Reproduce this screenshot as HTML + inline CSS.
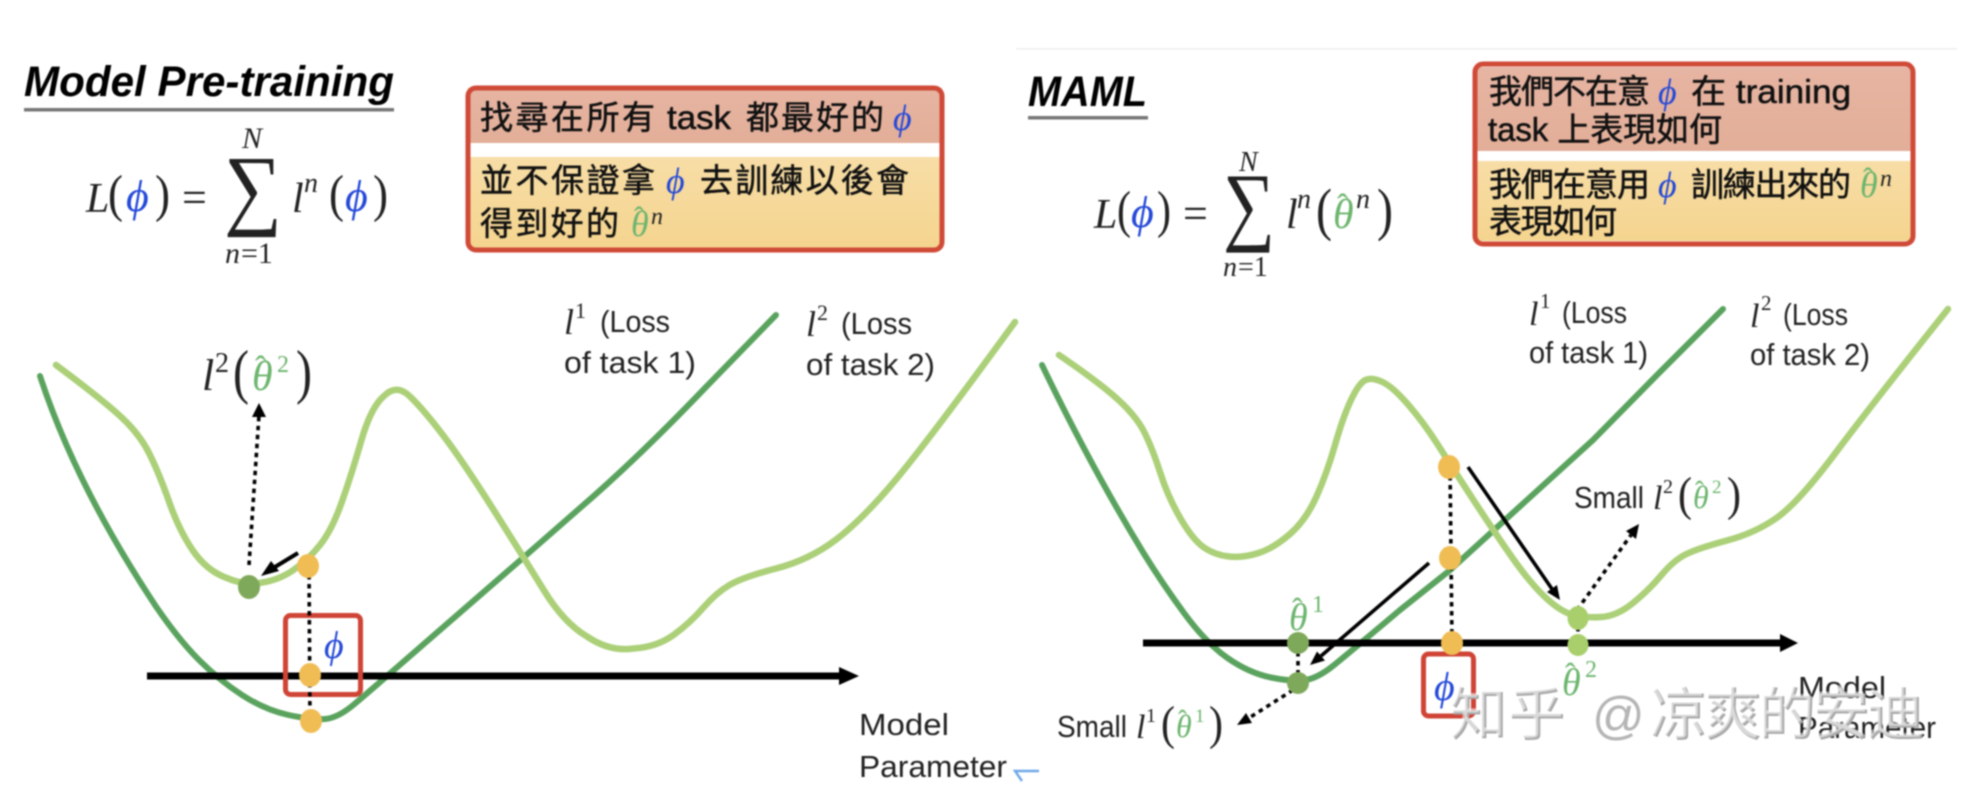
<!DOCTYPE html>
<html><head><meta charset="utf-8">
<style>
html,body{margin:0;padding:0;background:#fff;width:1978px;height:794px;overflow:hidden}
svg{display:block;filter:blur(.8px)}
text{font-family:"Liberation Sans","Noto Sans CJK TC",sans-serif;fill:#111}
.cjk{font-size:33px;fill:#111;stroke:#111;stroke-width:.5}
.m{font-family:"Liberation Serif","DejaVu Serif",serif;font-style:italic;fill:#222}
.u{font-family:"Liberation Serif","DejaVu Serif",serif;fill:#222}
.b{fill:#2348d8}
.g{fill:#6cb56e}
.t{font-weight:bold;font-style:italic;font-size:43px;fill:#000}
.s{font-size:31px;fill:#222}
.dark{fill:none;stroke:#5aa35e;stroke-width:6;stroke-linecap:round;stroke-linejoin:round}
.light{fill:none;stroke:#abd078;stroke-width:6.500;stroke-linecap:round;stroke-linejoin:round}
.dot{fill:none;stroke:#000;stroke-width:3.600;stroke-dasharray:4.500 4.500}
.w{font-size:57px;font-family:"Liberation Sans","Noto Sans CJK SC",sans-serif}
</style></head><body>
<svg width="1978" height="794" viewBox="0 0 1978 794" xmlns="http://www.w3.org/2000/svg">
<defs>
<linearGradient id="a1" x1="0" y1="0" x2="0" y2="1"><stop offset="0" stop-color="#e6b4a2"/><stop offset="1" stop-color="#e2ae98"/></linearGradient>
<linearGradient id="a2" x1="0" y1="0" x2="0" y2="1"><stop offset="0" stop-color="#f7dda6"/><stop offset="1" stop-color="#f4d48e"/></linearGradient>
</defs>
<rect width="1978" height="794" fill="#fff"/>
<rect x="1016" y="48" width="941" height="1.600" fill="#efefef"/>

<!-- left header -->
<text class="t" x="24" y="96" textLength="370" lengthAdjust="spacingAndGlyphs">Model Pre-training</text>
<rect x="24" y="108" width="370" height="3.500" fill="#777"/>

<text class="m" x="86" y="212" font-size="42">L</text>
<text class="u" x="108" y="211" font-size="52" textLength="15" lengthAdjust="spacingAndGlyphs">(</text>
<text class="m b" x="126" y="211" font-size="44">ϕ</text>
<text class="u" x="155" y="211" font-size="52" textLength="15" lengthAdjust="spacingAndGlyphs">)</text>
<text class="u" x="182" y="212" font-size="44">=</text>
<text class="u" x="224" y="218" font-size="90" textLength="58" lengthAdjust="spacingAndGlyphs">∑</text>
<text class="m" x="242" y="148" font-size="30">N</text>
<text class="m" x="225" y="263" font-size="30">n</text><text class="u" x="241" y="263" font-size="30">=1</text>
<text class="m" x="292" y="212" font-size="42">l</text>
<text class="m" x="304" y="192" font-size="28">n</text>
<text class="u" x="329" y="211" font-size="52" textLength="15" lengthAdjust="spacingAndGlyphs">(</text>
<text class="m b" x="345" y="211" font-size="44">ϕ</text>
<text class="u" x="373" y="211" font-size="52" textLength="15" lengthAdjust="spacingAndGlyphs">)</text>

<!-- left box -->
<rect x="468" y="88" width="474" height="162" rx="8" fill="#fff"/>
<rect x="468" y="88" width="474" height="55" fill="url(#a1)"/>
<rect x="468" y="157" width="474" height="92" fill="url(#a2)"/>
<rect x="468" y="88" width="474" height="162" rx="8" fill="none" stroke="#d04a38" stroke-width="5"/>
<text class="cjk" x="480" y="129" textLength="175">找尋在所有</text>
<text class="cjk" x="667" y="129" textLength="64" lengthAdjust="spacingAndGlyphs">task</text>
<text class="cjk" x="746" y="129" textLength="138">都最好的</text>
<text class="m b" x="893" y="130" font-size="36">ϕ</text>
<text class="cjk" x="480" y="192" textLength="175">並不保證拿</text>
<text class="m b" x="666" y="193" font-size="36">ϕ</text>
<text class="cjk" x="700" y="192" textLength="209">去訓練以後會</text>
<text class="cjk" x="480" y="235" textLength="139">得到好的</text>
<text class="m g" x="631" y="236" font-size="36">θ</text>
<text class="u g" x="634" y="227" font-size="30">ˆ</text>
<text class="m" x="651" y="224" font-size="24">n</text>

<!-- right header -->
<text class="t" x="1028" y="106" textLength="119" lengthAdjust="spacingAndGlyphs">MAML</text>
<rect x="1028" y="116" width="120" height="3.500" fill="#777"/>

<text class="m" x="1094" y="228" font-size="42">L</text>
<text class="u" x="1117" y="227" font-size="52" textLength="14" lengthAdjust="spacingAndGlyphs">(</text>
<text class="m b" x="1131" y="227" font-size="44">ϕ</text>
<text class="u" x="1157" y="227" font-size="52" textLength="14" lengthAdjust="spacingAndGlyphs">)</text>
<text class="u" x="1183" y="228" font-size="44">=</text>
<text class="u" x="1223" y="234" font-size="88" textLength="52" lengthAdjust="spacingAndGlyphs">∑</text>
<text class="m" x="1239" y="171" font-size="28">N</text>
<text class="m" x="1223" y="276" font-size="28">n</text><text class="u" x="1238" y="276" font-size="28">=1</text>
<text class="m" x="1286" y="228" font-size="42">l</text>
<text class="m" x="1297" y="208" font-size="28">n</text>
<text class="u" x="1316" y="229" font-size="58" textLength="16" lengthAdjust="spacingAndGlyphs">(</text>
<text class="m g" x="1333" y="228" font-size="42">θ</text>
<text class="u g" x="1337" y="217" font-size="34">ˆ</text>
<text class="m" x="1356" y="208" font-size="28">n</text>
<text class="u" x="1377" y="229" font-size="58" textLength="16" lengthAdjust="spacingAndGlyphs">)</text>

<!-- right box -->
<rect x="1475" y="64" width="438" height="180" rx="8" fill="#fff"/>
<rect x="1475" y="67" width="438" height="84" fill="url(#a1)"/>
<rect x="1475" y="161" width="438" height="80" fill="url(#a2)"/>
<rect x="1475" y="64" width="438" height="180" rx="8" fill="none" stroke="#d04a38" stroke-width="5"/>
<text class="cjk" x="1489" y="103" textLength="161">我們不在意</text>
<text class="m b" x="1658" y="104" font-size="36">ϕ</text>
<text class="cjk" x="1691" y="103" textLength="160" lengthAdjust="spacingAndGlyphs">在 training</text>
<text class="cjk" x="1488" y="141" textLength="234">task 上表現如何</text>
<text class="cjk" x="1489" y="196" textLength="161">我們在意用</text>
<text class="m b" x="1658" y="197" font-size="36">ϕ</text>
<text class="cjk" x="1691" y="196" textLength="160">訓練出來的</text>
<text class="m g" x="1860" y="197" font-size="36">θ</text>
<text class="u g" x="1863" y="188" font-size="30">ˆ</text>
<text class="m" x="1880" y="186" font-size="24">n</text>
<text class="cjk" x="1489" y="233" textLength="128">表現如何</text>

<!-- left curves -->
<path class="dark" d="M40 376 Q76 486 156 606.500 Q179 640 199 660 Q219 680 242 695 Q265 710 288.500 715 Q312 720 325 719 Q338 718 354.500 704 Q371 690 398 666.500 L425 643 L524 557 L580 508 Q637 459 706 387 L776 315"/>
<path class="light" d="M56 365 Q99 397 119 415 Q139 433 149 453 Q159 473 169 501.500 Q179 530 192.500 550 Q206 570 225.500 577.500 Q245 586 262 582.500 Q279 580 293.500 570 Q308 560 320 545 Q332 530 342 501.500 Q352 473 361.500 440 Q371 407 384 396 Q397 383 410.500 397 Q424 410 444 436.500 Q464 463 494 510.500 Q524 558 544 590.500 Q564 623 587 636.500 Q610 652 633.500 648.500 Q657 647 673.500 635 Q690 623 703 608 Q716 593 729.500 585 Q743 577 776 568.500 Q809 560 835.500 540 Q862 520 895.500 480 Q929 440 1015 322"/>

<!-- left axis -->
<rect x="147" y="672.500" width="695" height="7" fill="#000"/>
<polygon points="839,667 859,676 839,685" fill="#000"/>
<rect x="285.500" y="615.500" width="75" height="79" rx="5" fill="none" stroke="#cf4436" stroke-width="5"/>
<text class="m b" x="324" y="658" font-size="38">ϕ</text>
<line class="dot" x1="309" y1="566" x2="310" y2="720"/>
<line class="dot" x1="249" y1="565" x2="259" y2="415"/>
<polygon points="259,403 252,417 266,417" fill="#000"/>
<line x1="298" y1="553" x2="270" y2="570" stroke="#000" stroke-width="4"/>
<polygon points="261,576 271,561 279,571" fill="#000"/>
<ellipse cx="249" cy="587" rx="11" ry="12" fill="#7fa95a"/>
<ellipse cx="308" cy="566" rx="11" ry="12" fill="#f0bd55"/>
<ellipse cx="310" cy="675" rx="11" ry="12" fill="#f0bd55"/>
<ellipse cx="311" cy="721" rx="11" ry="12" fill="#f0bd55"/>

<!-- left labels -->
<text class="m" x="202" y="390" font-size="44">l</text>
<text class="u" x="215" y="372" font-size="28">2</text>
<text class="u" x="233" y="392" font-size="60" textLength="16" lengthAdjust="spacingAndGlyphs">(</text>
<text class="m g" x="252" y="390" font-size="42">θ</text>
<text class="u g" x="255" y="379" font-size="34">ˆ</text>
<text class="g" x="277" y="372" font-size="24" style="font-family:'Liberation Serif',serif">2</text>
<text class="u" x="296" y="392" font-size="60" textLength="16" lengthAdjust="spacingAndGlyphs">)</text>

<text class="m" x="564" y="334" font-size="36">l</text>
<text class="u" x="575" y="318" font-size="22">1</text>
<text class="s" x="600" y="332" textLength="70" lengthAdjust="spacingAndGlyphs">(Loss</text>
<text class="s" x="564" y="373" textLength="132" lengthAdjust="spacingAndGlyphs">of task 1)</text>
<text class="m" x="806" y="336" font-size="36">l</text>
<text class="u" x="817" y="320" font-size="22">2</text>
<text class="s" x="841" y="334" textLength="71" lengthAdjust="spacingAndGlyphs">(Loss</text>
<text class="s" x="806" y="375" textLength="129" lengthAdjust="spacingAndGlyphs">of task 2)</text>
<text class="s" x="859" y="735" textLength="90" lengthAdjust="spacingAndGlyphs">Model</text>
<text class="s" x="859" y="777" textLength="148" lengthAdjust="spacingAndGlyphs">Parameter</text>
<path d="M1039 771 L1015 771 L1022 781" fill="none" stroke="#6fa8e8" stroke-width="2.400"/>

<!-- right curves -->
<path class="dark" d="M1042 365 Q1091 467 1143.500 553 Q1162 583 1184 613 Q1206 643 1227.500 658 Q1249 673 1271 677.500 Q1293 682 1305.500 680 Q1318 678 1333.500 665.500 Q1349 653 1400 610 L1449 571 L1505 520 L1593 440 L1660 372 L1723 309"/>
<path class="light" d="M1059 355 Q1100 383 1118.500 400 Q1137 417 1145 433.500 Q1153 450 1160.500 473.500 Q1168 497 1180.500 518.500 Q1193 540 1204 547.500 Q1215 555 1229 556.500 Q1243 558 1258.500 553 Q1274 548 1290 534 Q1306 520 1316.500 496.500 Q1327 473 1335 445 Q1343 417 1351 400 Q1359 383 1365.500 380 Q1372 377 1382.500 382 Q1393 387 1408.500 405 Q1424 423 1438 445 Q1452 467 1472.500 498.500 Q1493 530 1511.500 556.500 Q1530 583 1545.500 597.500 Q1561 612 1573.500 615 Q1586 618 1601.500 617 Q1617 616 1633 603 Q1649 590 1661.500 575 Q1674 560 1686.500 554 Q1699 548 1727 540.500 Q1755 533 1776.500 518 Q1798 503 1835.500 453 Q1873 403 1948 309"/>

<!-- right axis -->
<rect x="1143" y="639.500" width="642" height="7" fill="#000"/>
<polygon points="1780,634 1798,643 1780,652" fill="#000"/>
<rect x="1423.500" y="654" width="50" height="62" rx="5" fill="none" stroke="#cf4436" stroke-width="5"/>
<text class="m b" x="1434" y="700" font-size="40">ϕ</text>
<line class="dot" x1="1450" y1="467" x2="1452" y2="643"/>
<line class="dot" x1="1298" y1="643" x2="1298" y2="683"/>
<line class="dot" x1="1578" y1="618" x2="1578" y2="645"/>
<line class="dot" x1="1577" y1="610" x2="1631" y2="535"/>
<polygon points="1639,524 1636,539 1626,531" fill="#000"/>
<line class="dot" x1="1293" y1="690" x2="1249" y2="718"/>
<polygon points="1237,725 1252,723 1246,713" fill="#000"/>
<line x1="1468" y1="467" x2="1552" y2="589" stroke="#000" stroke-width="3.600"/>
<polygon points="1560,600 1557,585 1547,592" fill="#000"/>
<line x1="1429" y1="563" x2="1321" y2="656" stroke="#000" stroke-width="3.600"/>
<polygon points="1310,665 1325,660.500 1317,651.500" fill="#000"/>
<ellipse cx="1449" cy="467" rx="11" ry="12" fill="#f0bd55"/>
<ellipse cx="1450" cy="558" rx="11" ry="12" fill="#f0bd55"/>
<ellipse cx="1452" cy="643" rx="11" ry="12" fill="#f0bd55"/>
<ellipse cx="1298" cy="643" rx="11" ry="11" fill="#7fa95a"/>
<ellipse cx="1298" cy="683" rx="11" ry="11" fill="#7fa95a"/>
<ellipse cx="1578" cy="618" rx="10.500" ry="12" fill="#a9cf6c"/>
<ellipse cx="1578" cy="645" rx="10.500" ry="11" fill="#a9cf6c"/>

<!-- right labels -->
<text class="m g" x="1289" y="630" font-size="38">θ</text>
<text class="u g" x="1292" y="620" font-size="32">ˆ</text>
<text class="g" x="1312" y="612" font-size="24" style="font-family:'Liberation Serif',serif">1</text>
<text class="m g" x="1562" y="695" font-size="38">θ</text>
<text class="u g" x="1565" y="685" font-size="32">ˆ</text>
<text class="g" x="1585" y="677" font-size="24" style="font-family:'Liberation Serif',serif">2</text>

<text class="s" x="1057" y="737" textLength="70" lengthAdjust="spacingAndGlyphs">Small</text>
<text class="m" x="1136" y="738" font-size="34">l</text>
<text class="u" x="1146" y="722" font-size="20">1</text>
<text class="u" x="1161" y="739" font-size="48" textLength="14" lengthAdjust="spacingAndGlyphs">(</text>
<text class="m g" x="1176" y="737" font-size="32">θ</text>
<text class="u g" x="1178" y="729" font-size="27">ˆ</text>
<text class="g" x="1195" y="722" font-size="19" style="font-family:'Liberation Serif',serif">1</text>
<text class="u" x="1209" y="739" font-size="48" textLength="14" lengthAdjust="spacingAndGlyphs">)</text>

<text class="s" x="1574" y="508" textLength="70" lengthAdjust="spacingAndGlyphs">Small</text>
<text class="m" x="1653" y="509" font-size="34">l</text>
<text class="u" x="1663" y="493" font-size="20">2</text>
<text class="u" x="1678" y="510" font-size="48" textLength="14" lengthAdjust="spacingAndGlyphs">(</text>
<text class="m g" x="1693" y="508" font-size="32">θ</text>
<text class="u g" x="1695" y="500" font-size="27">ˆ</text>
<text class="g" x="1712" y="493" font-size="19" style="font-family:'Liberation Serif',serif">2</text>
<text class="u" x="1727" y="510" font-size="48" textLength="14" lengthAdjust="spacingAndGlyphs">)</text>

<text class="m" x="1529" y="325" font-size="34">l</text>
<text class="u" x="1540" y="308" font-size="21">1</text>
<text class="s" x="1562" y="323" textLength="65" lengthAdjust="spacingAndGlyphs">(Loss</text>
<text class="s" x="1529" y="363" textLength="119" lengthAdjust="spacingAndGlyphs">of task 1)</text>
<text class="m" x="1750" y="327" font-size="34">l</text>
<text class="u" x="1761" y="310" font-size="21">2</text>
<text class="s" x="1783" y="325" textLength="65" lengthAdjust="spacingAndGlyphs">(Loss</text>
<text class="s" x="1750" y="365" textLength="120" lengthAdjust="spacingAndGlyphs">of task 2)</text>
<text class="s" x="1798" y="698" textLength="88" lengthAdjust="spacingAndGlyphs">Model</text>
<text class="s" x="1798" y="738" textLength="138" lengthAdjust="spacingAndGlyphs">Parameter</text>

<!-- watermark -->
<g class="w">
<text class="w" x="1451" y="735" style="fill:#a9a9a9" textLength="115">知乎</text>
<text class="w" x="1592" y="733" style="fill:#b5b5b5;font-size:52px" textLength="50">@</text>
<text class="w" x="1651" y="735" style="fill:#a9a9a9" textLength="274">凉爽的安迪</text>
<text class="w" x="1449" y="733" style="fill:#fff;opacity:.55" textLength="115">知乎</text>
<text class="w" x="1649" y="733" style="fill:#fff;opacity:.55" textLength="274">凉爽的安迪</text>
</g>
</svg>
</body></html>
